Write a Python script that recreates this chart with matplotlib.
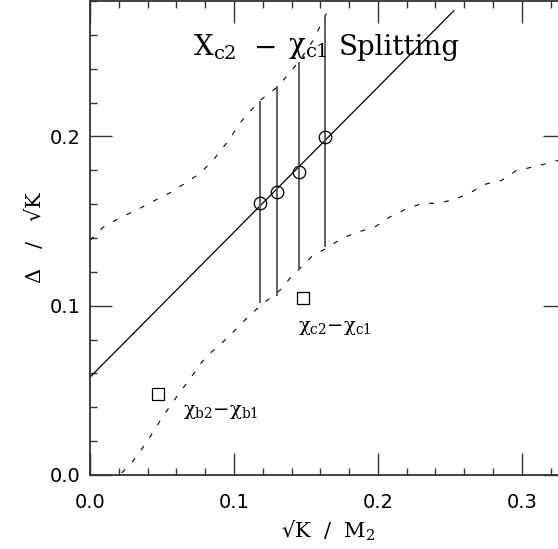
import matplotlib
matplotlib.use("Agg")
import matplotlib.pyplot as plt
from matplotlib.ticker import MultipleLocator

plt.rcParams['mathtext.fontset'] = 'custom'
plt.rcParams['mathtext.rm'] = 'DejaVu Serif'
plt.rcParams['mathtext.it'] = 'DejaVu Serif:italic'
plt.rcParams['font.family'] = ['DejaVu Serif']

# ---- data ----
circle_x = [0.118, 0.130, 0.145, 0.163]
circle_y = [0.1605, 0.167, 0.179, 0.1996]
err_lo = [0.1015, 0.1058, 0.121, 0.1347]
err_hi = [0.221, 0.2295, 0.244, 0.272]

fit_x = [0.0, 0.2528]
fit_y = [0.0578, 0.2743]

square_x = [0.148, 0.047]
square_y = [0.1046, 0.0476]
square_labels = [r"χ$_{\rm c2}$$-$χ$_{\rm c1}$", r"χ$_{\rm b2}$$-$χ$_{\rm b1}$"]

upper_x = [0.0, 0.009, 0.0215, 0.0333, 0.0438, 0.0549, 0.066, 0.0764, 0.0854,
           0.0951, 0.1056, 0.118, 0.1306, 0.1451, 0.1549, 0.1646]
upper_y = [0.1386, 0.1463, 0.1522, 0.1569, 0.1617, 0.1664, 0.1723, 0.1782, 0.1858,
           0.1963, 0.2094, 0.2212, 0.2295, 0.2442, 0.2566, 0.2732]

lower_x = [0.022, 0.029, 0.034, 0.0394, 0.0444, 0.05, 0.0556, 0.0611, 0.0667, 0.0729,
           0.0776, 0.0845, 0.0889, 0.0958, 0.1014, 0.1063, 0.1111, 0.1188, 0.1319,
           0.1389, 0.1444, 0.1514, 0.1549, 0.1644, 0.1748, 0.1861, 0.1979, 0.2083,
           0.2199, 0.2313, 0.2417, 0.2535, 0.2639, 0.2743, 0.2859, 0.2963, 0.3076,
           0.3188, 0.33]
lower_y = [0.0012, 0.0073, 0.013, 0.0195, 0.0261, 0.0338, 0.0407, 0.0472, 0.0537, 0.0608,
           0.0667, 0.0727, 0.0757, 0.0814, 0.0861, 0.0904, 0.0944, 0.1003, 0.1091,
           0.1162, 0.1209, 0.1268, 0.1298, 0.1339, 0.1398, 0.1435, 0.1465, 0.1524,
           0.1573, 0.1605, 0.1605, 0.1628, 0.1666, 0.1717, 0.1740, 0.1799, 0.1819,
           0.1843, 0.1870]

x_ticks = [0.0, 0.1, 0.2, 0.3]
x_ticklabels = ["0.0", "0.1", "0.2", "0.3"]
y_ticks = [0.0, 0.1, 0.2]
y_ticklabels = ["0.0", "0.1", "0.2"]

title_parts = [r"X$_{\rm c2}$", r"$-$", r"χ$_{\rm c1}$", "Splitting"]
xlabel_text = r"√K  /  M$_{2}$"
ylabel_text = r"Δ   /   √K"

# ---- figure ----
W, H = 558, 549
fig = plt.figure(figsize=(W / 100, H / 100), dpi=100)
ax = fig.add_axes([90 / W, (H - 475) / H, 475 / W, 474 / H])
ax.set_xlim(0, 0.33)
ax.set_ylim(0, 0.28)

dash = (0, (4.5, 9))
ax.plot(upper_x, upper_y, color='black', lw=0.8, linestyle=dash)
ax.plot(lower_x, lower_y, color='black', lw=0.8, linestyle=dash)

ax.plot(fit_x, fit_y, color='black', lw=0.9)
ax.vlines(circle_x, err_lo, err_hi, color='#555555', lw=1.3)
ax.plot(circle_x, circle_y, linestyle='none', marker='o', ms=9,
        mfc='none', mec='black', mew=0.9)
ax.plot(square_x, square_y, linestyle='none', marker='s', ms=8,
        mfc='none', mec='black', mew=0.9)

ax.text(0.1444, 0.0867, square_labels[0], fontsize=14, va='center', ha='left')
ax.text(0.0646, 0.0375, square_labels[1], fontsize=14, va='center', ha='left')

# title pieces placed at the reference's positions (axes x data units)
title_x = [0.0715, 0.113, 0.1375, 0.1725]
for tx, tp in zip(title_x, title_parts):
    ax.text(tx, 0.2525, tp, fontsize=20, va='center', ha='left')

ax.set_xticks(x_ticks)
ax.set_xticklabels(x_ticklabels, family=['DejaVu Sans'], fontsize=14)
ax.set_yticks(y_ticks)
ax.set_yticklabels(y_ticklabels, family=['DejaVu Sans'], fontsize=14)
ax.xaxis.set_minor_locator(MultipleLocator(0.02))
ax.yaxis.set_minor_locator(MultipleLocator(0.02))
ax.tick_params(which='both', direction='in', top=True, right=True, color='#333333', width=1.0)
ax.tick_params(which='major', length=16)
ax.tick_params(which='minor', length=5)
ax.tick_params(axis='x', which='major', pad=13)
ax.tick_params(axis='y', which='major', pad=7)

for s in ax.spines.values():
    s.set_linewidth(1.3)
    s.set_color('#333333')

ax.set_xlabel(xlabel_text, fontsize=15, labelpad=5)
ax.set_ylabel(ylabel_text, fontsize=15, labelpad=3)

fig.savefig("out.png", dpi=100)
